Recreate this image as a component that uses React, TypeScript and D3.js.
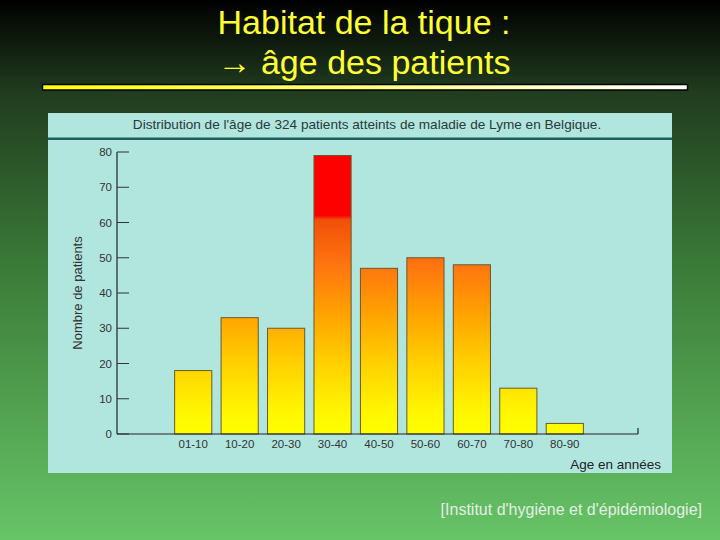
import React from "react";
import * as d3 from "d3";

const categories = ["01-10", "10-20", "20-30", "30-40", "40-50", "50-60", "60-70", "70-80", "80-90"];
const patients = [18, 33, 30, 79, 47, 50, 48, 13, 3];
const yTicks = [0, 10, 20, 30, 40, 50, 60, 70, 80];

const W = 720;
const H = 540;
const FONT = "'Liberation Sans', Arial, sans-serif";

export default function App() {
  const y = d3.scaleLinear().domain([0, 80]).range([434, 152]);
  const x = d3.scaleBand<string>().domain(categories).range([170, 588]).paddingInner(0.2).paddingOuter(0.1);

  return (
    <svg width={W} height={H} style={{ position: "absolute", left: 0, top: 0 }} xmlns="http://www.w3.org/2000/svg">
      <defs>
        <linearGradient id="bg" x1="0" y1="0" x2="0" y2="1">
          <stop offset="0" stopColor="#000000" />
          <stop offset="0.17" stopColor="#213c1f" />
          <stop offset="0.5" stopColor="#3c7c39" />
          <stop offset="1" stopColor="#67c467" />
        </linearGradient>
        <linearGradient id="rule" x1="0" y1="0" x2="1" y2="0">
          <stop offset="0" stopColor="#ffff00" />
          <stop offset="1" stopColor="#ffffff" />
        </linearGradient>
        <linearGradient id="barGrad" gradientUnits="userSpaceOnUse" x1="0" y1={y(0)} x2="0" y2={y(80)}>
          <stop offset="0" stopColor="#ffff00" />
          <stop offset="0.08" stopColor="#fff600" />
          <stop offset="0.25" stopColor="#ffd000" />
          <stop offset="0.42" stopColor="#ffa400" />
          <stop offset="0.6" stopColor="#ff7410" />
          <stop offset="0.76" stopColor="#f05008" />
          <stop offset="0.775" stopColor="#ff0000" />
          <stop offset="1" stopColor="#ff0000" />
        </linearGradient>
      </defs>

      <rect x={0} y={0} width={W} height={H} fill="url(#bg)" />

      <g fontFamily={FONT} fill="#ffff33" fontSize={34} textAnchor="middle">
        <text x={364} y={34}>Habitat de la tique :</text>
        <text x={364} y={74}>
          <tspan fontWeight="bold">→</tspan> âge des patients
        </text>
      </g>
      <rect x={42.5} y={84.5} width={645} height={5.5} fill="url(#rule)" stroke="#000" strokeWidth={1.5} />

      <rect x={48} y={113} width={624} height={360} fill="#b1e6df" />
      <text x={367} y={129} textAnchor="middle" fontFamily={FONT} fontSize={13.6} fill="#2a3a3a">
        Distribution de l'âge de 324 patients atteints de maladie de Lyme en Belgique.
      </text>
      <rect x={48} y={137.5} width={624} height={2.5} fill="#1d5f5f" />

      {patients.map((v, i) => (
        <rect
          key={categories[i]}
          x={x(categories[i])}
          y={y(v)}
          width={x.bandwidth()}
          height={y(0) - y(v)}
          fill="url(#barGrad)"
          stroke="#6a5a2a"
          strokeWidth={1}
        />
      ))}

      <g fontFamily={FONT} fontSize={11.5} fill="#333">
        <line x1={117} x2={117} y1={y(80)} y2={y(0)} stroke="#222" strokeWidth={1.2} />
        <line x1={117} x2={638} y1={y(0)} y2={y(0)} stroke="#222" strokeWidth={1.2} />
        <line x1={638} x2={638} y1={y(0)} y2={y(0) - 6} stroke="#222" strokeWidth={1.2} />
        {yTicks.map((t) => (
          <g key={t}>
            <line x1={117} x2={129} y1={y(t)} y2={y(t)} stroke="#333" strokeWidth={1} />
            <text x={112} y={y(t) + 4} textAnchor="end">{t}</text>
          </g>
        ))}
        {categories.map((c) => (
          <text key={c} x={(x(c) as number) + x.bandwidth() / 2} y={448} textAnchor="middle">{c}</text>
        ))}
        <text x={661} y={469} textAnchor="end" fontSize={13.5} fill="#222">Age en années</text>
        <text transform="translate(82,293) rotate(-90)" textAnchor="middle" fontSize={13} fill="#333">Nombre de patients</text>
      </g>

      <text x={702} y={515} textAnchor="end" fontFamily={FONT} fontSize={16} fill="#e4eee4">
        [Institut d'hygiène et d'épidémiologie]
      </text>
    </svg>
  );
}
